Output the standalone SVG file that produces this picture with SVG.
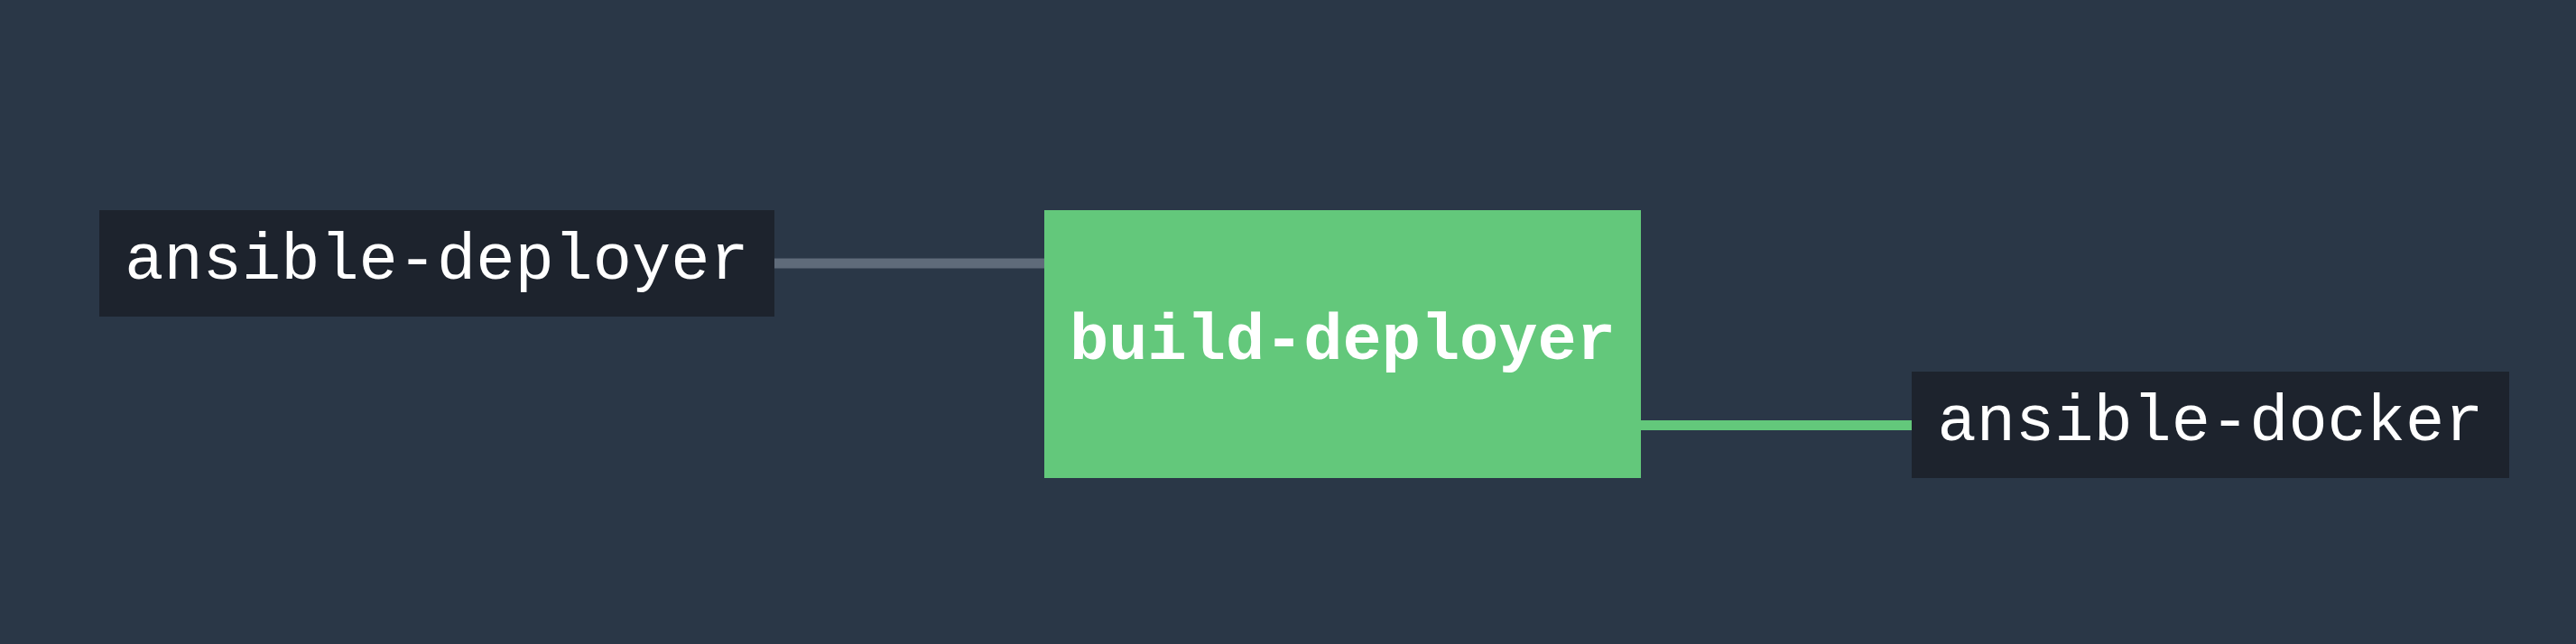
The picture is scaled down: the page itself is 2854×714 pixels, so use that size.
<svg xmlns="http://www.w3.org/2000/svg" width="2854" height="714" viewBox="0 0 2854 714">
<style>
.bg{fill:#2a3747}
.dark{fill:#1d232d}
.green{fill:#63c87b}
.lbl{font-family:"Courier New","Nimbus Mono PS","FreeMono",Courier,"Liberation Mono",monospace;font-size:72px;fill:#ffffff;text-anchor:middle}
.bold{font-weight:bold}
.edge{stroke-width:11;fill:none}
</style>
<rect class="bg" x="0" y="0" width="2854" height="714"/>
<g id="connectors">
<line class="edge" x1="858" y1="292" x2="1157" y2="292" stroke="#5f6b7a"/>
<line class="edge" x1="1818" y1="471.5" x2="2118" y2="471.5" stroke="#63c87b"/>
</g>
<g id="node-ansible-deployer">
<rect class="dark" x="110" y="233" width="748" height="118"/>
<text class="lbl" x="484" y="309">ansible-deployer</text>
</g>
<g id="node-build-deployer">
<rect class="green" x="1157" y="233" width="661" height="297"/>
<text class="lbl bold" x="1487.5" y="398">build-deployer</text>
</g>
<g id="node-ansible-docker">
<rect class="dark" x="2118" y="412" width="662" height="118"/>
<text class="lbl" x="2449" y="488">ansible-docker</text>
</g>
</svg>
